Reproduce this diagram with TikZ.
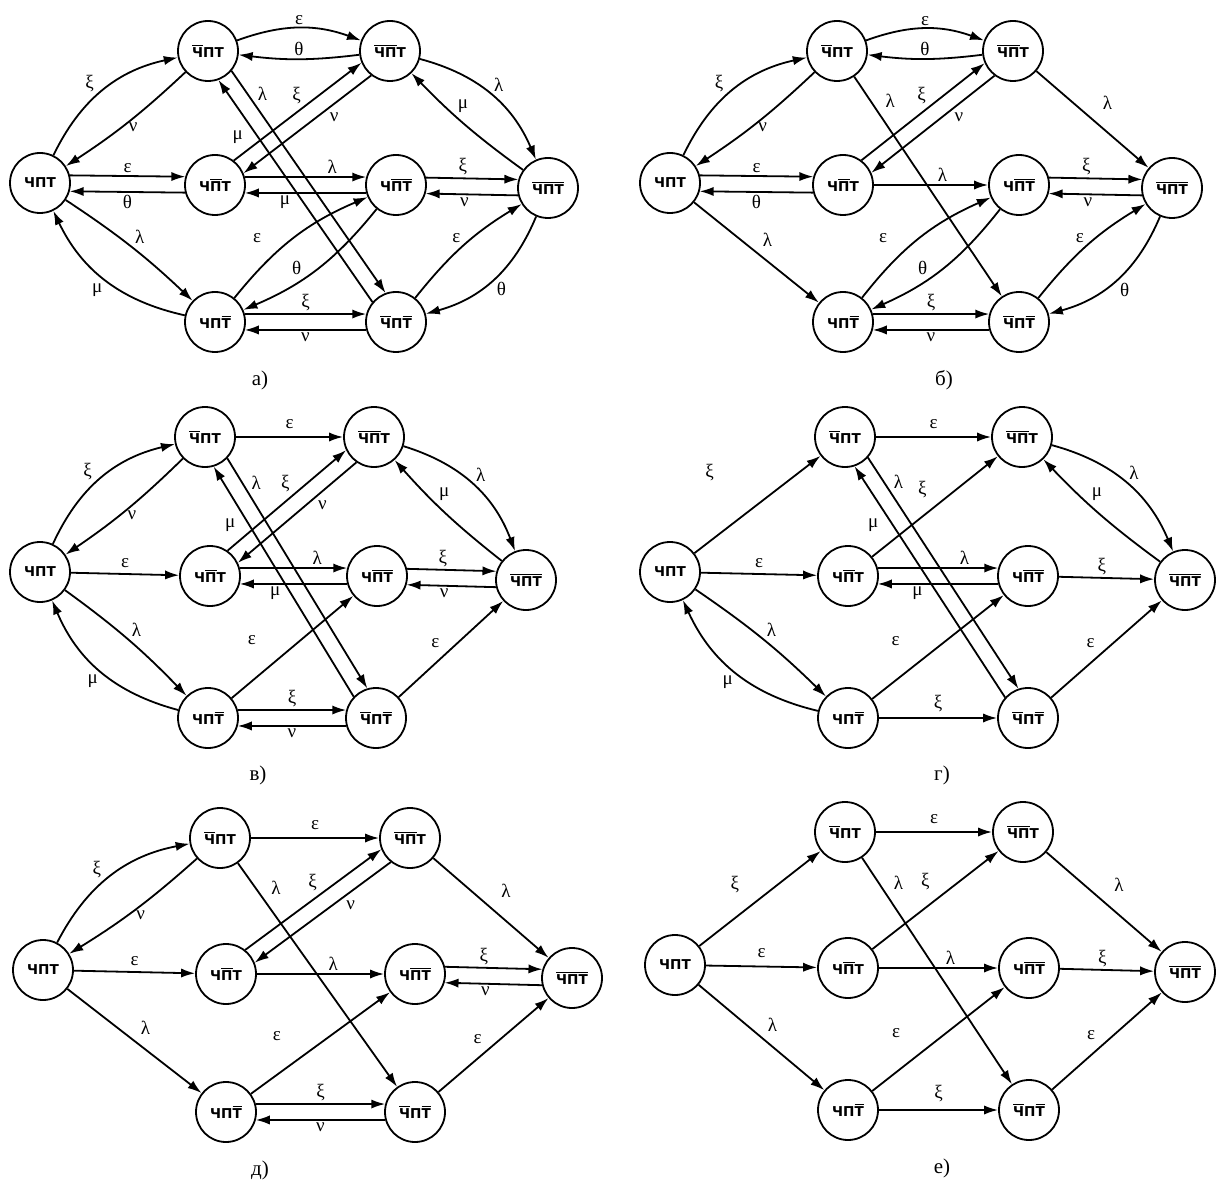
\documentclass[tikz,border=0pt]{standalone}
\usepackage{fontspec}
\setmainfont{Liberation Serif}
\newfontfamily\statefont{DejaVu Sans}
\usetikzlibrary{arrows.meta,calc}

% overbar over a group of letters (negated state component)
\newcommand\ob[1]{\vbox{\hrule height .7pt\kern .8pt\hbox{#1}}}
% radius used to put the ends of a pair of parallel arrows on a circle
\newcommand\rr{15.4pt}

\tikzset{
  st/.style={circle, draw, line width=0.9pt, minimum size=30pt, inner sep=0pt,
             font=\statefont\bfseries\fontsize{6.8}{8}\selectfont},
  arr/.style={line width=0.9pt, -{Latex[length=7pt,width=4.6pt]}},
  lbl/.style={font=\fontsize{9.5}{10}\selectfont, inner sep=1.2pt},
  captext/.style={font=\fontsize{10.5}{12}\selectfont},
}

% the eight states of one graph: prefix, then eight positions
\newcommand\states[9]{%
  \node[st] (#1L)  at (#2) {ЧПТ};
  \node[st] (#1TA) at (#3) {\ob{Ч}ПТ};
  \node[st] (#1TB) at (#4) {\ob{Ч}\ob{П}Т};
  \node[st] (#1MA) at (#5) {Ч\ob{П}Т};
  \node[st] (#1MB) at (#6) {Ч\ob{ПТ}};
  \node[st] (#1R)  at (#7) {\ob{Ч}\ob{ПТ}};
  \node[st] (#1BA) at (#8) {ЧП\ob{Т}};
  \node[st] (#1BB) at (#9) {\ob{Ч}П\ob{Т}};
}
% one of two parallel arrows: from, to, angle, label options, label
\newcommand\twin[5]{\draw[arr] ($(#1)!\rr!#3:(#2)$) -- node[lbl,#4]{#5} ($(#2)!\rr!-#3:(#1)$);}
% bent arrow: from, to, bend, label options, label
\newcommand\bent[5]{\draw[arr] (#1) to[bend left=#3] node[lbl,#4]{#5} (#2);}
% straight arrow: from, to, label options, label
\newcommand\direct[4]{\draw[arr] (#1) -- node[lbl,#3]{#4} (#2);}

\begin{document}
\begin{tikzpicture}[x=0.5pt, y=-0.5pt]
\useasboundingbox (0,0) rectangle (1221,1182);

% ---------------- а) ----------------
\states{a}{40,183}{208,51}{390,51}{215,185}{396,185}{548,188}{215,322}{396,322}
\bent{aL}{aTA}{26}{auto,pos=.45}{ξ}
\bent{aTA}{aL}{5}{auto,inner sep=0pt}{ν}
\twin{aL}{aMA}{15}{auto}{ε}
\twin{aMA}{aL}{15}{auto}{θ}
\bent{aL}{aBA}{5}{auto}{λ}
\bent{aBA}{aL}{26}{auto}{μ}
\bent{aTA}{aTB}{20}{auto}{ε}
\bent{aTB}{aTA}{7}{auto,swap}{θ}
\twin{aTA}{aBB}{15}{auto,pos=.15}{λ}
\twin{aBB}{aTA}{15}{auto,pos=.8,outer sep=2pt}{μ}
\twin{aMA}{aTB}{15}{auto,pos=.55}{ξ}
\twin{aTB}{aMA}{15}{auto,pos=.35}{ν}
\twin{aMA}{aMB}{15}{auto,pos=.72}{λ}
\twin{aMB}{aMA}{15}{auto,pos=.67}{μ}
\twin{aMB}{aR}{15}{auto,pos=.4}{ξ}
\twin{aR}{aMB}{15}{auto,pos=.58}{ν}
\bent{aTB}{aR}{26}{auto}{λ}
\bent{aR}{aTB}{5}{auto,swap,pos=.6}{μ}
\bent{aBA}{aMB}{14}{auto,pos=.33,outer sep=5pt}{ε}
\bent{aMB}{aBA}{14}{auto,swap,pos=.6}{θ}
\twin{aBA}{aBB}{15}{auto}{ξ}
\twin{aBB}{aBA}{15}{auto}{ν}
\bent{aBB}{aR}{10}{auto}{ε}
\bent{aR}{aBB}{26}{auto}{θ}
\node[captext] (acap) at (260,380) {а)};

% ---------------- б) ----------------
\states{b}{670,183}{837,51}{1013,51}{843,185}{1019,185}{1172,188}{843,322}{1019,322}
\bent{bL}{bTA}{26}{auto,pos=.45}{ξ}
\bent{bTA}{bL}{5}{auto,inner sep=0pt}{ν}
\twin{bL}{bMA}{15}{auto}{ε}
\twin{bMA}{bL}{15}{auto}{θ}
\direct{bL}{bBA}{auto,outer sep=2pt}{λ}
\bent{bTA}{bTB}{20}{auto}{ε}
\bent{bTB}{bTA}{7}{auto,swap}{θ}
\direct{bTA}{bBB}{auto,pos=.17,outer sep=2pt}{λ}
\twin{bMA}{bTB}{15}{auto,pos=.55}{ξ}
\twin{bTB}{bMA}{15}{auto,pos=.35}{ν}
\direct{bMA}{bMB}{auto,pos=.6}{λ}
\twin{bMB}{bR}{15}{auto,pos=.4}{ξ}
\twin{bR}{bMB}{15}{auto,pos=.58}{ν}
\direct{bTB}{bR}{auto,outer sep=4pt}{λ}
\bent{bBA}{bMB}{14}{auto,pos=.33,outer sep=5pt}{ε}
\bent{bMB}{bBA}{14}{auto,swap,pos=.6}{θ}
\twin{bBA}{bBB}{15}{auto}{ξ}
\twin{bBB}{bBA}{15}{auto}{ν}
\bent{bBB}{bR}{10}{auto}{ε}
\bent{bR}{bBB}{26}{auto}{θ}
\node[captext] (bcap) at (944,380) {б)};

% ---------------- в) ----------------
\states{c}{40,572}{205,437}{374,437}{210,576}{377,576}{526,580}{208,718}{376,718}
\bent{cL}{cTA}{26}{auto,pos=.45}{ξ}
\bent{cTA}{cL}{5}{auto,inner sep=0pt}{ν}
\direct{cL}{cMA}{auto,outer sep=2pt}{ε}
\bent{cL}{cBA}{5}{auto}{λ}
\bent{cBA}{cL}{26}{auto}{μ}
\direct{cTA}{cTB}{auto,outer sep=3pt}{ε}
\twin{cTA}{cBB}{15}{auto,pos=.15}{λ}
\twin{cBB}{cTA}{15}{auto,pos=.8,outer sep=2pt}{μ}
\twin{cMA}{cTB}{15}{auto,pos=.55}{ξ}
\twin{cTB}{cMA}{15}{auto,pos=.35}{ν}
\twin{cMA}{cMB}{15}{auto,pos=.72}{λ}
\twin{cMB}{cMA}{15}{auto,pos=.67}{μ}
\twin{cMB}{cR}{15}{auto,pos=.4}{ξ}
\twin{cR}{cMB}{15}{auto,pos=.58}{ν}
\bent{cTB}{cR}{26}{auto}{λ}
\bent{cR}{cTB}{5}{auto,swap,pos=.6}{μ}
\direct{cBA}{cMB}{pos=.33,xshift=-10pt,yshift=12pt}{ε}
\twin{cBA}{cBB}{15}{auto}{ξ}
\twin{cBB}{cBA}{15}{auto}{ν}
\direct{cBB}{cR}{auto,pos=.45,outer sep=2pt}{ε}
\node[captext] (ccap) at (258,775) {в)};

% ---------------- г) ----------------
\states{d}{670,572}{845,437}{1022,437}{848,576}{1028,576}{1185,580}{848,718}{1028,718}
\direct{dL}{dTA}{pos=.5,xshift=-24pt,yshift=16pt}{ξ}
\direct{dL}{dMA}{auto,outer sep=2pt}{ε}
\bent{dL}{dBA}{5}{auto}{λ}
\bent{dBA}{dL}{26}{auto}{μ}
\direct{dTA}{dTB}{auto,outer sep=3pt}{ε}
\twin{dTA}{dBB}{15}{auto,pos=.15}{λ}
\twin{dBB}{dTA}{15}{auto,pos=.8,outer sep=2pt}{μ}
\direct{dMA}{dTB}{auto,pos=.5,outer sep=3pt}{ξ}
\twin{dMA}{dMB}{15}{auto,pos=.72}{λ}
\twin{dMB}{dMA}{15}{auto,pos=.67}{μ}
\direct{dMB}{dR}{auto,pos=.45}{ξ}
\bent{dTB}{dR}{26}{auto}{λ}
\bent{dR}{dTB}{5}{auto,swap,pos=.6}{μ}
\direct{dBA}{dMB}{pos=.33,xshift=-10pt,yshift=12pt}{ε}
\direct{dBA}{dBB}{auto,outer sep=2pt}{ξ}
\direct{dBB}{dR}{auto,pos=.45,outer sep=2pt}{ε}
\node[captext] (dcap) at (942,775) {г)};

% ---------------- д) ----------------
\states{e}{43,970}{220,838}{410,838}{226,974}{415,974}{572,978}{226,1112}{415,1112}
\bent{eL}{eTA}{26}{auto,pos=.45}{ξ}
\bent{eTA}{eL}{5}{auto,inner sep=0pt}{ν}
\direct{eL}{eMA}{auto,outer sep=2pt}{ε}
\direct{eL}{eBA}{auto,outer sep=2pt}{λ}
\direct{eTA}{eTB}{auto,outer sep=3pt}{ε}
\direct{eTA}{eBB}{auto,pos=.17,outer sep=2pt}{λ}
\twin{eMA}{eTB}{15}{auto,pos=.55}{ξ}
\twin{eTB}{eMA}{15}{auto,pos=.35}{ν}
\direct{eMA}{eMB}{auto,pos=.6}{λ}
\twin{eMB}{eR}{15}{auto,pos=.4}{ξ}
\twin{eR}{eMB}{15}{auto,pos=.58}{ν}
\direct{eTB}{eR}{auto,outer sep=4pt}{λ}
\direct{eBA}{eMB}{pos=.33,xshift=-10pt,yshift=12pt}{ε}
\twin{eBA}{eBB}{15}{auto}{ξ}
\twin{eBB}{eBA}{15}{auto}{ν}
\direct{eBB}{eR}{auto,pos=.45,outer sep=2pt}{ε}
\node[captext] (ecap) at (260,1170) {д)};

% ---------------- е) ----------------
\states{f}{675,965}{845,832}{1023,832}{848,968}{1029,968}{1185,972}{848,1110}{1029,1110}
\direct{fL}{fTA}{auto,pos=.43,outer sep=5pt}{ξ}
\direct{fL}{fMA}{auto,outer sep=3pt}{ε}
\direct{fL}{fBA}{auto,outer sep=2pt}{λ}
\direct{fTA}{fTB}{auto,outer sep=3pt}{ε}
\direct{fTA}{fBB}{auto,pos=.17,outer sep=2pt}{λ}
\direct{fMA}{fTB}{auto,pos=.52,outer sep=3pt}{ξ}
\direct{fMA}{fMB}{auto,pos=.6}{λ}
\direct{fMB}{fR}{auto,pos=.45}{ξ}
\direct{fTB}{fR}{auto,outer sep=4pt}{λ}
\direct{fBA}{fMB}{pos=.33,xshift=-10pt,yshift=12pt}{ε}
\direct{fBA}{fBB}{auto,outer sep=3pt}{ξ}
\direct{fBB}{fR}{auto,pos=.45,outer sep=2pt}{ε}
\node[captext] (fcap) at (942,1168) {е)};
\end{tikzpicture}
\end{document}
